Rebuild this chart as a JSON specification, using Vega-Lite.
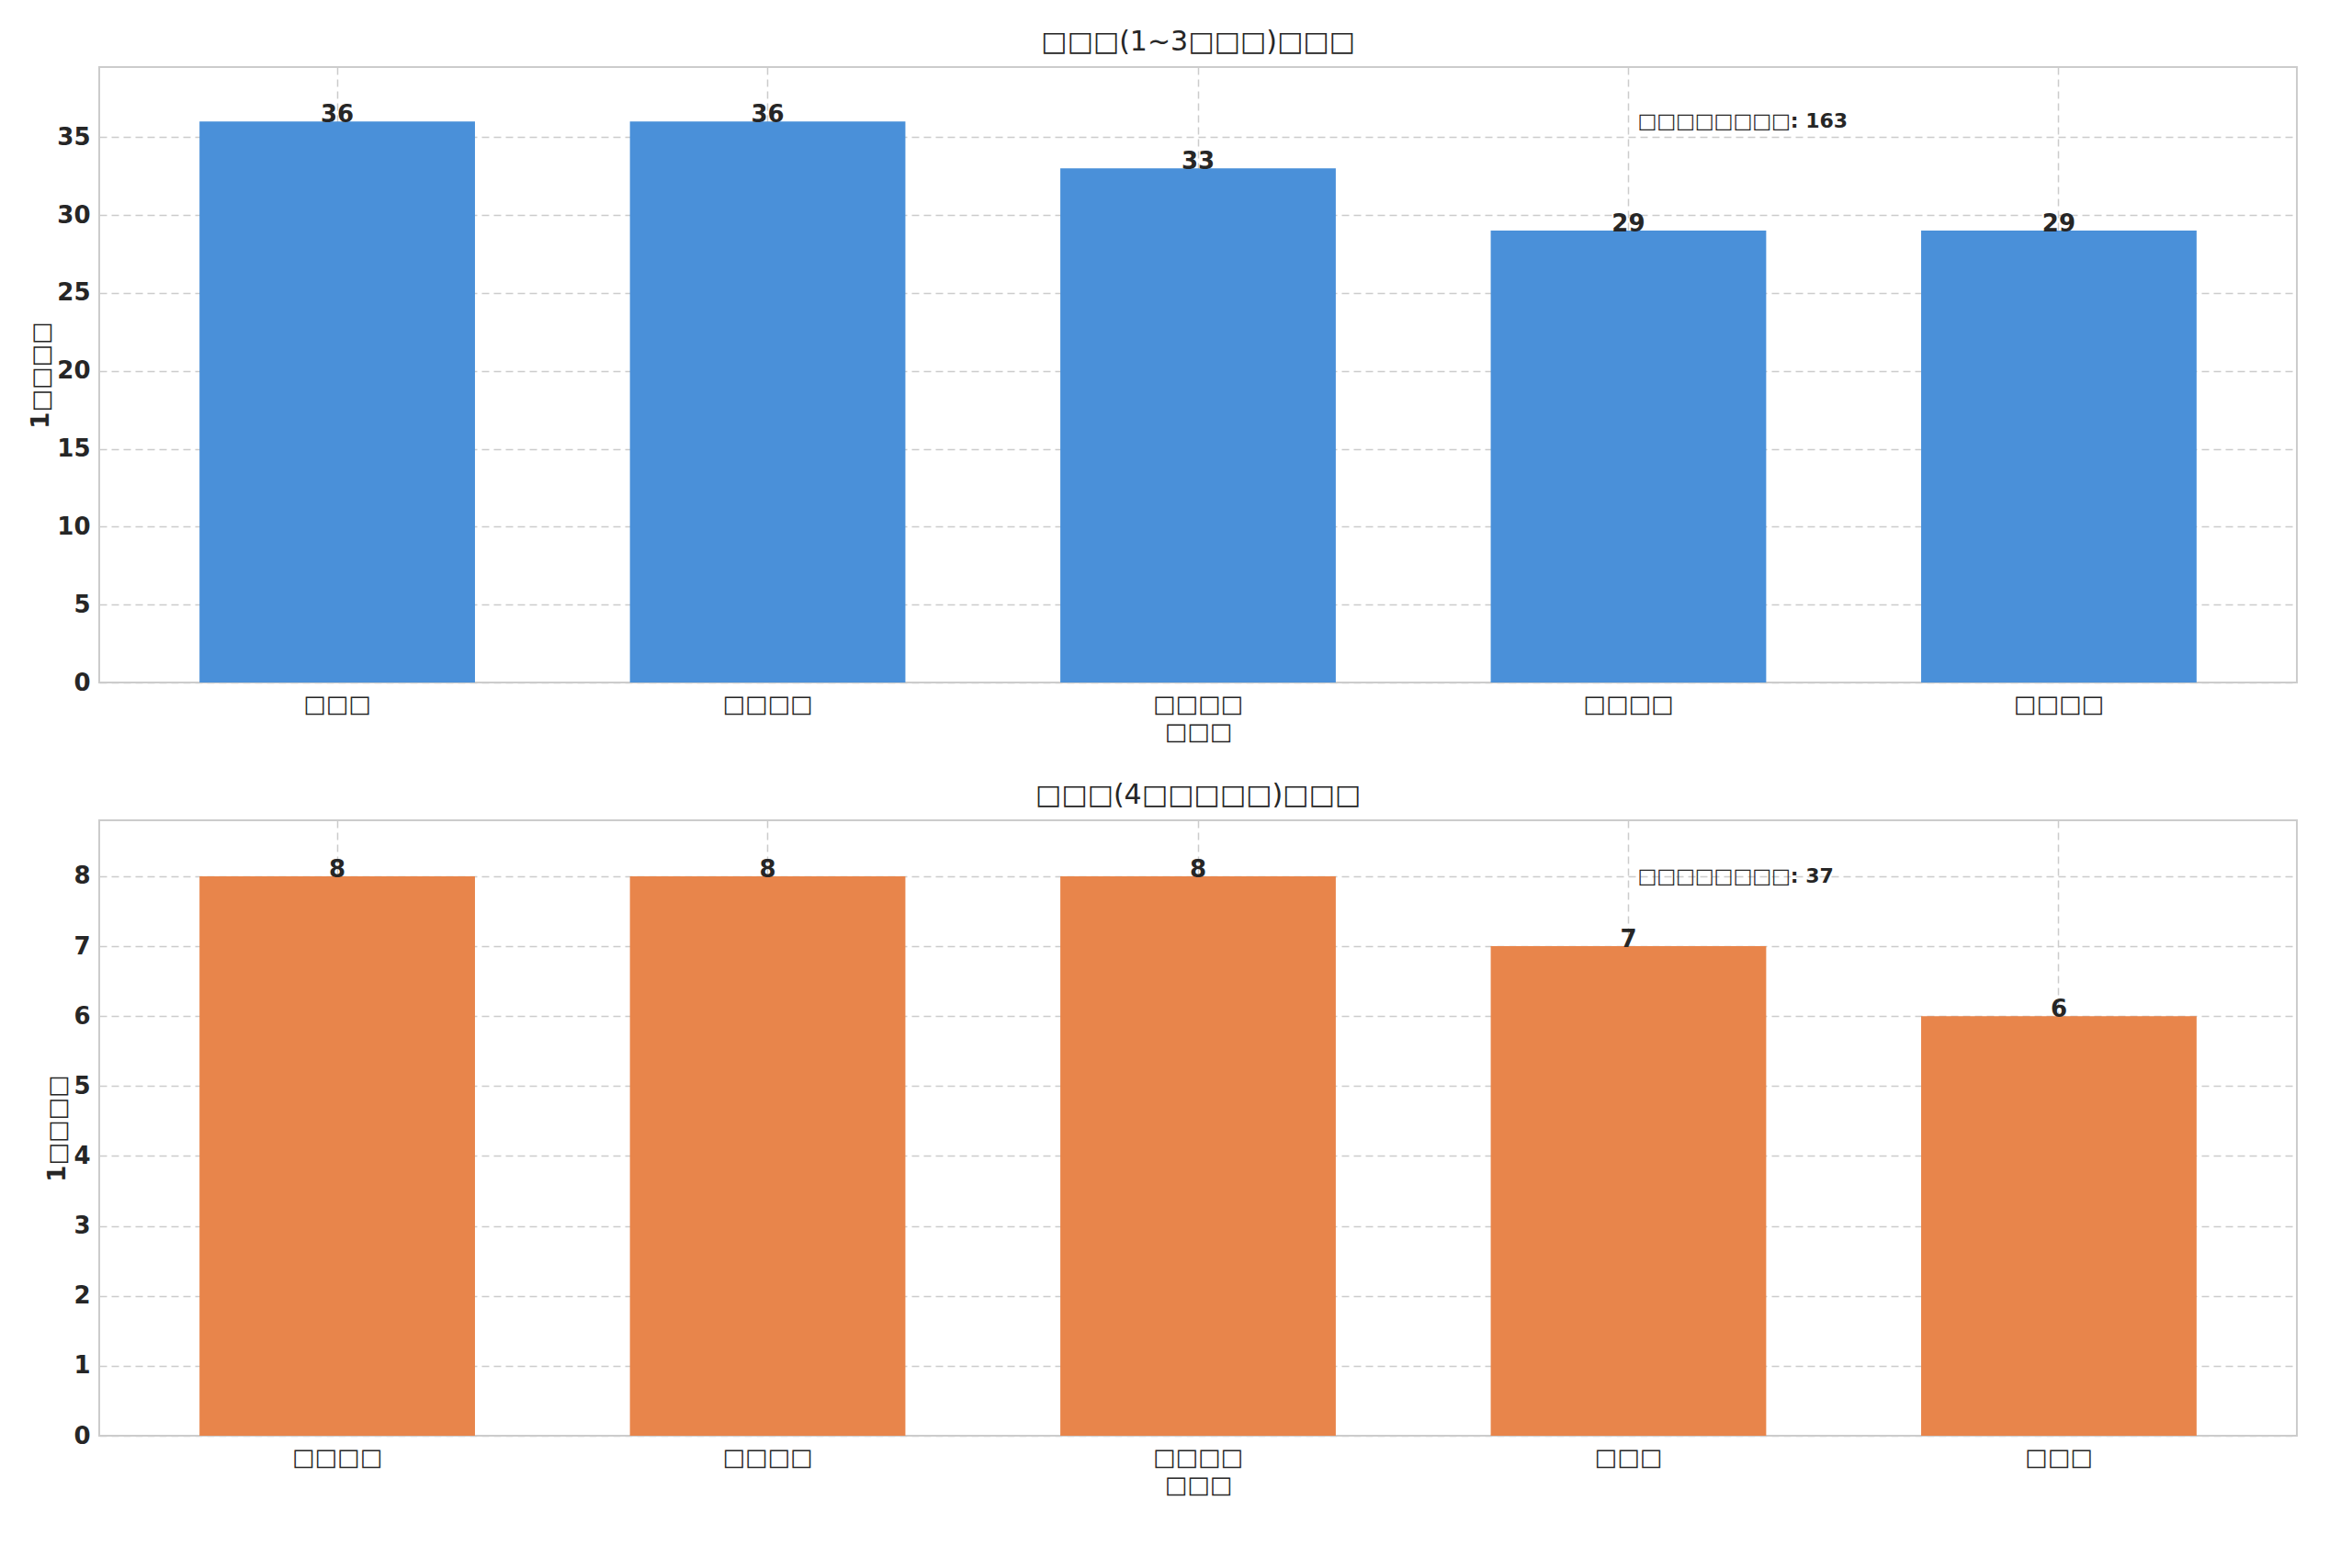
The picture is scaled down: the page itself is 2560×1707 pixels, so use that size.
{
  "$schema": "https://vega.github.io/schema/vega-lite/v6.json",
  "background": "white",
  "padding": {"left": 30, "top": 30, "right": 20, "bottom": 5},
  "config": {
    "font": "DejaVu Sans",
    "view": {"stroke": "#cccccc", "strokeWidth": 2},
    "title": {"fontSize": 30, "fontWeight": "normal", "color": "#262626", "offset": 12},
    "axis": {
      "grid": true, "gridColor": "#cccccc", "gridDash": [8, 5], "gridWidth": 1.5,
      "domain": false, "ticks": false, "labelFontSize": 26, "labelColor": "#262626",
      "titleFontSize": 26, "titleFontWeight": "normal", "titleColor": "#262626", "labelPadding": 10
    },
    "axisY": {"labelFontWeight": "bold", "titleFontWeight": "bold"},
    "scale": {"bandPaddingInner": 0.36, "bandPaddingOuter": 0.233}
  },
  "datasets": {
    "top": [
      {"k": "□□□", "v": 36},
      {"k": "□□□□", "v": 36},
      {"k": "□□□□ ", "v": 33},
      {"k": "□□□□  ", "v": 29},
      {"k": "□□□□   ", "v": 29}
    ],
    "bot": [
      {"k": "□□□□", "v": 8},
      {"k": "□□□□ ", "v": 8},
      {"k": "□□□□  ", "v": 8},
      {"k": "□□□", "v": 7},
      {"k": "□□□ ", "v": 6}
    ]
  },
  "vconcat": [
    {
      "width": 2392, "height": 670,
      "title": "□□□(1~3□□□)□□□",
      "data": {"name": "top"},
      "encoding": {
        "x": {"field": "k", "type": "nominal", "sort": null, "title": "□□□", "axis": {"labelAngle": 0, "labelExpr": "trim(datum.value)"}},
        "y": {"field": "v", "type": "quantitative", "title": "1□□□□", "scale": {"domain": [0, 39.5], "nice": false}, "axis": {"values": [0,5,10,15,20,25,30,35]}}
      },
      "layer": [
        {"mark": {"type": "bar", "color": "#4a90d9"}},
        {"mark": {"type": "text", "fontSize": 26, "fontWeight": "bold", "color": "#262626", "baseline": "bottom", "dy": 6}, "encoding": {"text": {"field": "v"}}},
        {"data": {"values": [{"k": "□□□□  ", "v": 36, "t": "□□□□□□□□: 163"}]},
         "mark": {"type": "text", "align": "left", "fontSize": 22, "fontWeight": "bold", "color": "#262626", "dx": 10},
         "encoding": {"text": {"field": "t"}}}
      ]
    },
    {
      "width": 2392, "height": 670,
      "title": "□□□(4□□□□□)□□□",
      "data": {"name": "bot"},
      "encoding": {
        "x": {"field": "k", "type": "nominal", "sort": null, "title": "□□□", "axis": {"labelAngle": 0, "labelExpr": "trim(datum.value)"}},
        "y": {"field": "v", "type": "quantitative", "title": "1□□□□", "scale": {"domain": [0, 8.8], "nice": false}, "axis": {"values": [0,1,2,3,4,5,6,7,8]}}
      },
      "layer": [
        {"mark": {"type": "bar", "color": "#e8854b"}},
        {"mark": {"type": "text", "fontSize": 26, "fontWeight": "bold", "color": "#262626", "baseline": "bottom", "dy": 6}, "encoding": {"text": {"field": "v"}}},
        {"data": {"values": [{"k": "□□□", "v": 8, "t": "□□□□□□□□: 37"}]},
         "mark": {"type": "text", "align": "left", "fontSize": 22, "fontWeight": "bold", "color": "#262626", "dx": 10},
         "encoding": {"text": {"field": "t"}}}
      ]
    }
  ],
  "spacing": 40
}
